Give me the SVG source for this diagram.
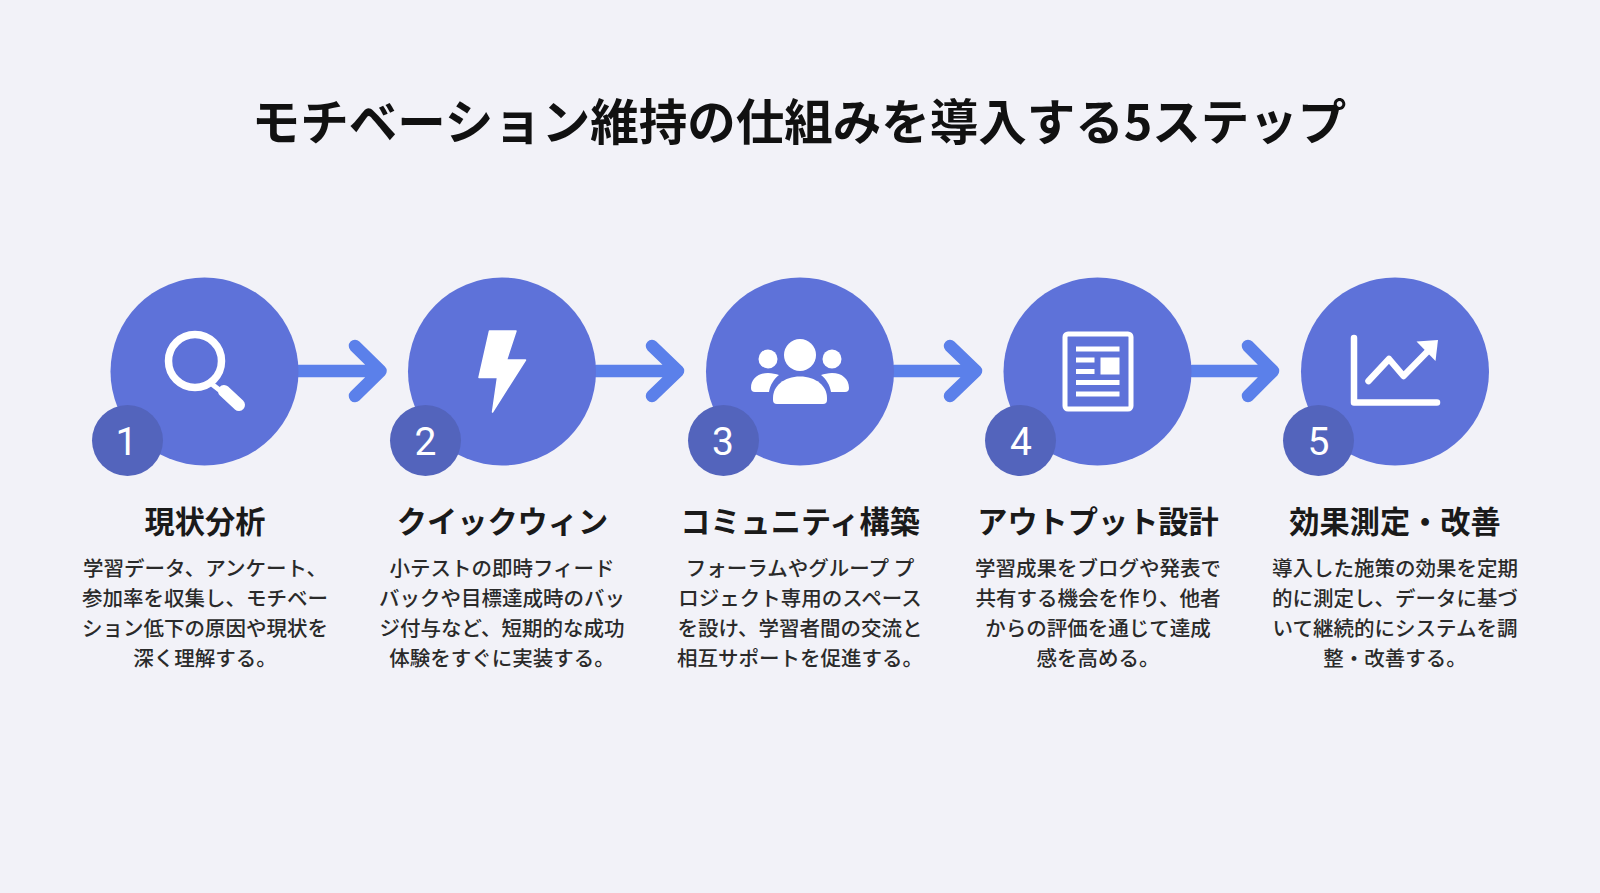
<svg xmlns="http://www.w3.org/2000/svg" width="1600" height="893" viewBox="0 0 1600 893">
<style>
text{font-family:"Noto Sans CJK JP","Noto Sans",sans-serif;text-anchor:middle}
.title{font-size:48.500px;font-weight:700;fill:#111}
.head{font-size:30.200px;font-weight:700;fill:#1a1a1a}
.body{font-size:20.500px;font-weight:500;fill:#2a2a2a}
.num{font-family:Roboto,"Noto Sans",sans-serif;font-size:39px;font-weight:400;fill:#fff}
.disc{fill:#5e72d9}
.badge{fill:#5364bc}
.arrow{fill:none;stroke:#5b80ea;stroke-width:12.500;stroke-linecap:round;stroke-linejoin:round}
.ico{fill:#fff}
.line{fill:none;stroke:#fff;stroke-linecap:round;stroke-linejoin:round}
</style>
<rect width="1600" height="893" fill="#f2f2f8"/>
<text class="title" x="799" y="140">モチベーション維持の仕組みを導入する5ステップ</text>
<g id="connectors">
<path class="arrow" d="M298 371H380M355 346L380.500 371L355 396"/>
<path class="arrow" d="M596 371H678M652 346L678 371L652 396"/>
<path class="arrow" d="M894 371H976M950 346L976 371L950 396"/>
<path class="arrow" d="M1192 371H1273M1248 346L1273 371L1248 396"/>
</g>
<g id="step1">
<circle class="disc" cx="204.500" cy="371.500" r="94"/>
<circle class="line" cx="195" cy="361" r="26.500" stroke-width="7.500"/>
<path class="line" d="M213 385L222 392" stroke-width="5"/>
<path class="line" d="M224 391L239 405" stroke-width="12"/>
<circle class="badge" cx="127.500" cy="440.500" r="35.500"/>
<text class="num" x="126.500" y="455">1</text>
<text class="head" x="205" y="533">現状分析</text>
<text class="body" x="205" y="575.500">学習データ、アンケート、</text>
<text class="body" x="205" y="605.500">参加率を収集し、モチベー</text>
<text class="body" x="205" y="635.500">ション低下の原因や現状を</text>
<text class="body" x="205" y="665.500">深く理解する。</text>
</g>
<g id="step2">
<circle class="disc" cx="502" cy="371.500" r="94"/>
<path class="ico" stroke="#fff" stroke-width="1.500" stroke-linejoin="round" d="M489.500 331H516L506.500 360H525.500L492.500 412L497.500 377.500H479Z"/>
<circle class="badge" cx="425.500" cy="440.500" r="35.500"/>
<text class="num" x="425.500" y="455">2</text>
<text class="head" x="502.500" y="533">クイックウィン</text>
<text class="body" x="502" y="575.500">小テストの即時フィード</text>
<text class="body" x="502" y="605.500">バックや目標達成時のバッ</text>
<text class="body" x="502" y="635.500">ジ付与など、短期的な成功</text>
<text class="body" x="502" y="665.500">体験をすぐに実装する。</text>
</g>
<g id="step3">
<circle class="disc" cx="800" cy="371.500" r="94"/>
<circle class="ico" cx="800" cy="355" r="16"/>
<circle class="ico" cx="768" cy="359" r="9.500"/>
<circle class="ico" cx="832" cy="359" r="9.500"/>
<path class="ico" d="M773 398C773 386 784 376.500 800 376.500C816 376.500 827 386 827 398V400Q827 404 823 404H777Q773 404 773 400Z"/>
<path class="ico" d="M751 388C751 379 758 373 768 373C772 373 776 374 779 375C774 379 770 385 769 392H755Q751 392 751 388Z"/>
<path class="ico" d="M849 388C849 379 842 373 832 373C828 373 824 374 821 375C826 379 830 385 831 392H845Q849 392 849 388Z"/>
<circle class="badge" cx="723.500" cy="440.500" r="35.500"/>
<text class="num" x="723" y="455">3</text>
<text class="head" x="800" y="533">コミュニティ構築</text>
<text class="body" x="800" y="575.500">フォーラムやグループ プ</text>
<text class="body" x="800" y="605.500">ロジェクト専用のスペース</text>
<text class="body" x="800" y="635.500">を設け、学習者間の交流と</text>
<text class="body" x="800" y="665.500">相互サポートを促進する。</text>
</g>
<g id="step4">
<circle class="disc" cx="1097.500" cy="371.500" r="94"/>
<rect x="1065" y="334" width="66" height="75" rx="3" fill="none" stroke="#fff" stroke-width="5"/>
<rect class="ico" x="1076" y="346.500" width="43.500" height="5"/>
<rect class="ico" x="1076" y="357.500" width="18.500" height="5"/>
<rect class="ico" x="1076" y="369" width="18.500" height="5"/>
<rect class="ico" x="1100.500" y="357.500" width="19" height="17"/>
<rect class="ico" x="1076" y="380" width="43.500" height="5"/>
<rect class="ico" x="1076" y="391.500" width="43.500" height="5"/>
<circle class="badge" cx="1020.500" cy="440.500" r="35.500"/>
<text class="num" x="1021" y="455">4</text>
<text class="head" x="1098" y="533">アウトプット設計</text>
<text class="body" x="1098" y="575.500">学習成果をブログや発表で</text>
<text class="body" x="1098" y="605.500">共有する機会を作り、他者</text>
<text class="body" x="1098" y="635.500">からの評価を通じて達成</text>
<text class="body" x="1098" y="665.500">感を高める。</text>
</g>
<g id="step5">
<circle class="disc" cx="1395" cy="371.500" r="94"/>
<path class="line" d="M1354 338V402.500H1437" stroke-width="6.500"/>
<path class="line" d="M1368.500 381L1389 359L1403.500 376L1427 352" stroke-width="6.500"/>
<path class="ico" d="M1416.500 341.500L1438 340L1435.500 361Z"/>
<circle class="badge" cx="1318.500" cy="440.500" r="35.500"/>
<text class="num" x="1318.500" y="455">5</text>
<text class="head" x="1395" y="533">効果測定・改善</text>
<text class="body" x="1395" y="575.500">導入した施策の効果を定期</text>
<text class="body" x="1395" y="605.500">的に測定し、データに基づ</text>
<text class="body" x="1395" y="635.500">いて継続的にシステムを調</text>
<text class="body" x="1395" y="665.500">整・改善する。</text>
</g>
</svg>
